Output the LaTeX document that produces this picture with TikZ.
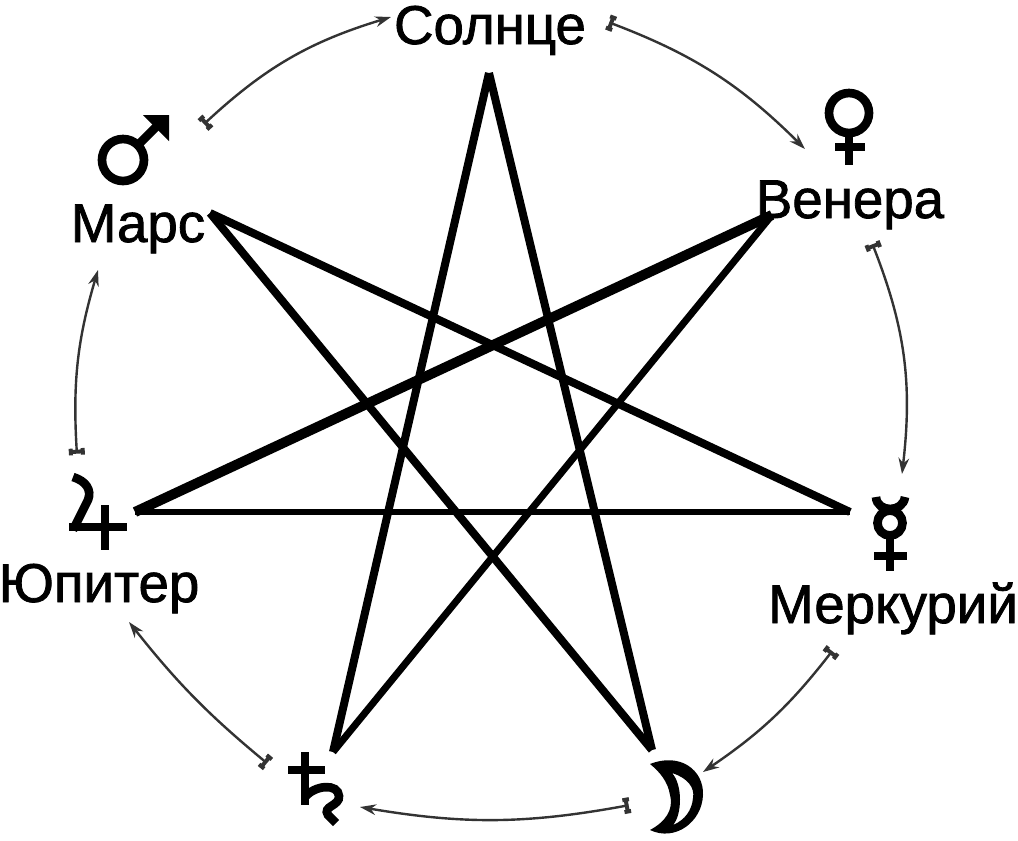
\documentclass[tikz,border=0pt]{standalone}
\usepackage{fontspec}
\setmainfont{Liberation Sans}[BoldFont={Liberation Sans},BoldFeatures={FakeBold=1.4}]
\usetikzlibrary{arrows.meta}
\tikzset{
  planetname/.style={inner sep=0pt, anchor=base, font=\bfseries\fontsize{41pt}{41pt}\selectfont},
  planetsign/.style={line width=6.5pt, color=black},
  ray/.style={line width=#1*0.75pt, color=black, miter limit=20},
  orbit/.style={line width=1.8pt, color=black!80,
    {Tee Barb[width=12pt, length=5pt, line width=3pt]}-{Stealth[length=12pt, width=8pt]}}
}

\begin{document}
\begin{tikzpicture}[x=0.75pt, y=-0.75pt]
  \useasboundingbox (0,0) rectangle (1018,840);

  % star points
  \coordinate (sun) at (489,73);
  \coordinate (venus) at (772,215);
  \coordinate (mercury) at (850,512);
  \coordinate (moon) at (652,750);
  \coordinate (saturn) at (333,752);
  \coordinate (jupiter) at (135,512);
  \coordinate (mars) at (210,213);

  \draw[ray=8] (sun) -- (saturn);
  \draw[ray=7] (saturn) -- (venus);
  \draw[ray=10] (venus) -- (jupiter);
  \draw[ray=6] (jupiter) -- (mercury);
  \draw[ray=8] (mercury) -- (mars);
  \draw[ray=8] (mars) -- (moon);
  \draw[ray=8] (moon) -- (sun);

  % names
  \node[planetname] (sunname) at (490,44) {Солнце};
  \node[planetname] (venusname) at (850,218) {Венера};
  \node[planetname] (mercuryname) at (893,623) {Меркурий};
  \node[planetname] (jupitername) at (99,602) {Юпитер};
  \node[planetname] (marsname) at (138,242) {Марс};

  % venus
  \draw[planetsign] (849,113) circle (20);
  \draw[planetsign] (849,133) -- (849,165);
  \draw[planetsign] (835,147) -- (865,147);
  % mars
  \draw[planetsign] (123,160) circle (21);
  \draw[planetsign] (138,145) -- (160,123);
  \fill (143,115) -- (169,115) -- (169,141) -- cycle;
  % mercury
  \draw[planetsign] (890,523) circle (12.5);
  \draw[planetsign] (876,497) .. controls (877,513) and (903,513) .. (905,497);
  \draw[planetsign] (890,535) -- (890,571);
  \draw[planetsign] (874,556) -- (907,556);
  % jupiter
  \draw[planetsign] (73,477) .. controls (86,481) and (92,490) .. (88,500) -- (73,530);
  \draw[planetsign] (69,527) -- (127,527);
  \draw[planetsign] (105,505) -- (105,550);
  % saturn
  \draw[planetsign] (305,752) -- (305,805);
  \draw[planetsign] (288,770) -- (325,770);
  \draw[planetsign] (305,797) .. controls (315,785) and (338,783) .. (339,796)
    .. controls (340,806) and (322,806) .. (328,815) -- (336,823);
  % moon
  \fill[even odd rule] (650,764) .. controls (680,752) and (704,770) .. (703,795)
    .. controls (702,822) and (675,842) .. (650,830)
    .. controls (665,822) and (674,810) .. (670,795)
    .. controls (668,782) and (660,772) .. (650,764) -- cycle
    (672,773) .. controls (688,778) and (695,788) .. (693,798)
    .. controls (692,810) and (685,820) .. (673,825)
    .. controls (682,815) and (683,785) .. (672,773) -- cycle;

  % arrows
  \coordinate (a1) at (203,125); \coordinate (b1) at (391,17);
  \coordinate (a2) at (608,22);  \coordinate (b2) at (805,149);
  \coordinate (a3) at (872,243); \coordinate (b3) at (902,474);
  \coordinate (a4) at (833,650); \coordinate (b4) at (703,772);
  \coordinate (a5) at (630,805); \coordinate (b5) at (360,807);
  \coordinate (a6) at (268,764); \coordinate (b6) at (129,622);
  \coordinate (a7) at (77,455);  \coordinate (b7) at (98,270);

  \draw[orbit] (a1) to[bend left=13] (b1);
  \draw[orbit] (a2) to[bend left=12] (b2);
  \draw[orbit] (a3) to[bend left=14] (b3);
  \draw[orbit] (a4) to[bend left=9] (b4);
  \draw[orbit] (a5) to[bend left=10] (b5);
  \draw[orbit] (a6) to[bend left=6] (b6);
  \draw[orbit] (a7) to[bend left=10] (b7);
\end{tikzpicture}
\end{document}
